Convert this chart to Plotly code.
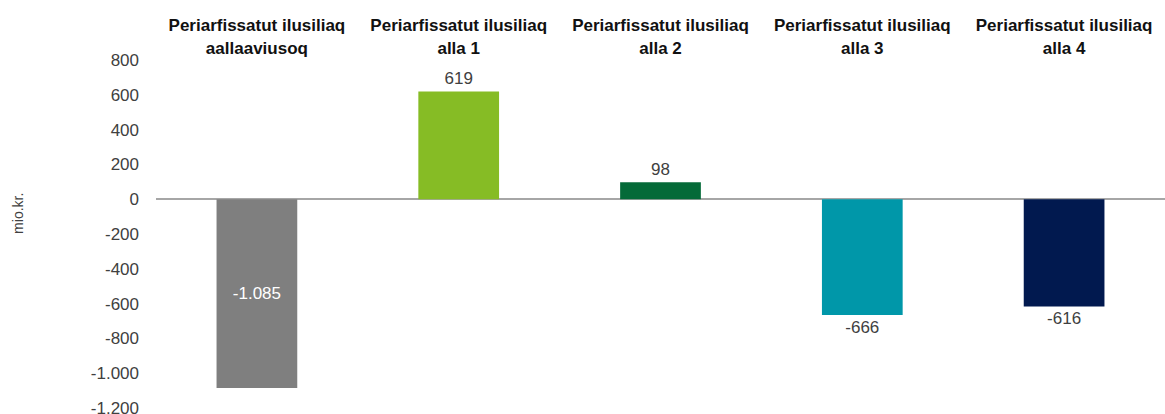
import plotly.graph_objects as go

categories = [
    "Periarfissatut ilusiliaq<br>aallaaviusoq",
    "Periarfissatut ilusiliaq<br>alla 1",
    "Periarfissatut ilusiliaq<br>alla 2",
    "Periarfissatut ilusiliaq<br>alla 3",
    "Periarfissatut ilusiliaq<br>alla 4",
]
values = [-1085, 619, 98, -666, -616]
value_labels = ["-1.085", "619", "98", "-666", "-616"]
colors = ["#7f7f7f", "#86bc25", "#046a38", "#0097a9", "#01194f"]
tick_vals = [800, 600, 400, 200, 0, -200, -400, -600, -800, -1000, -1200]
tick_text = ["800", "600", "400", "200", "0", "-200", "-400", "-600", "-800", "-1.000", "-1.200"]
y_title = "mio.kr."

FONT = "Liberation Sans, Arial, sans-serif"

fig = go.Figure(go.Bar(
    x=categories,
    y=values,
    marker=dict(color=colors, line=dict(width=0)),
    text=value_labels,
    textposition=["inside", "outside", "outside", "outside", "outside"],
    insidetextanchor="middle",
    textangle=0,
    constraintext="none",
    textfont=dict(family=FONT, size=17),
    insidetextfont=dict(color="white", family=FONT, size=17),
    outsidetextfont=dict(color="#404040", family=FONT, size=17),
    cliponaxis=False,
    hoverinfo="skip",
))

fig.update_layout(
    width=1165, height=414,
    margin=dict(l=156, r=0, t=60, b=6),
    paper_bgcolor="white", plot_bgcolor="white",
    bargap=0.6,
    showlegend=False,
    font=dict(family=FONT, color="#404040"),
    xaxis=dict(
        side="top", automargin=False,
        showline=False, showgrid=False, zeroline=False,
        ticks="", ticklabelstandoff=2,
        ticklabeloverflow="allow",
        tickfont=dict(family=FONT, size=17, color="#111111", weight="bold"),
    ),
    yaxis=dict(
        range=[-1200, 800], automargin=False,
        tickvals=tick_vals, ticktext=tick_text,
        showgrid=False, showline=False,
        zeroline=True, zerolinecolor="#a6a6a6", zerolinewidth=1.5,
        ticks="", ticklabelstandoff=16,
        ticklabeloverflow="allow",
        tickfont=dict(family=FONT, size=17, color="#404040"),
    ),
    annotations=[dict(
        text=y_title, textangle=-90, showarrow=False,
        xref="paper", yref="paper", x=-0.137, y=0.56,
        xanchor="center", yanchor="middle",
        font=dict(family=FONT, size=14, color="#404040"),
    )],
)

fig.write_html("out.html", config={"displayModeBar": False},
               post_script="document.body.style.margin='0';")
